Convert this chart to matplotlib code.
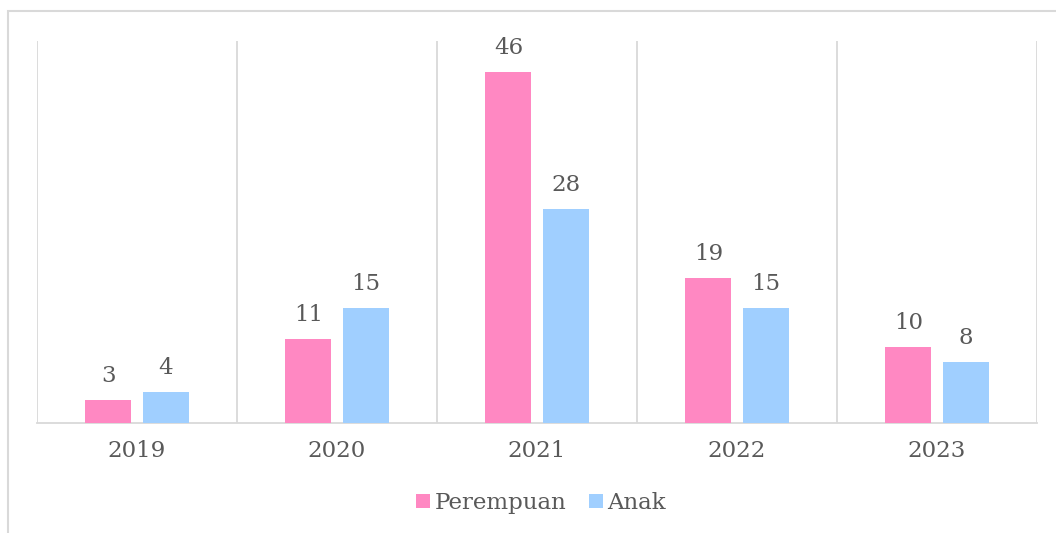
import matplotlib
matplotlib.use("Agg")
import matplotlib.pyplot as plt
import numpy as np
from matplotlib.patches import Rectangle

years = ["2019", "2020", "2021", "2022", "2023"]
perempuan = [3, 11, 46, 19, 10]
anak = [4, 15, 28, 15, 8]

pink = "#FF88C2"
blue = "#A0CFFF"
grid = "#D9D9D9"
txt = "#595959"

plt.rcParams['font.family'] = ['DejaVu Serif']

W, H = 1056, 533
fig = plt.figure(figsize=(W / 100, H / 100), dpi=100)
fig.patch.set_facecolor("white")

# outer chart border
fig.patches.append(Rectangle((8 / W, -0.2), 1.5, (H - 11) / H + 0.2,
                             transform=fig.transFigure, fill=False,
                             edgecolor=grid, linewidth=1.5))

ax = fig.add_axes([37 / W, (H - 423) / H, 1000 / W, 382 / H])
x = np.arange(len(years))
bw = 0.23
off = 0.143
b1 = ax.bar(x - off, perempuan, bw, color=pink, label="Perempuan", zorder=3)
b2 = ax.bar(x + off, anak, bw, color=blue, label="Anak", zorder=3)

ax.set_xlim(-0.5, len(years) - 0.5)
ax.set_ylim(0, 50)
for s in ["top", "left", "right"]:
    ax.spines[s].set_visible(False)
ax.spines["bottom"].set_color(grid)
ax.spines["bottom"].set_linewidth(1.3)
ax.set_yticks([])
ax.set_xticks(x)
ax.set_xticklabels(years, fontsize=16.5, color=txt)
ax.tick_params(axis="x", length=0, pad=12)

for b in np.arange(-0.5, len(years), 1.0):
    ax.axvline(b, color=grid, linewidth=1.3, zorder=1)

for bars, vals in ((b1, perempuan), (b2, anak)):
    for rect, v in zip(bars, vals):
        ax.annotate(str(v), (rect.get_x() + rect.get_width() / 2, v),
                    xytext=(0, 24), textcoords="offset pixels",
                    ha="center", va="center", fontsize=16.5, color=txt)

leg = fig.legend(handles=[b1, b2], labels=["Perempuan", "Anak"],
                 loc="center", bbox_to_anchor=(541 / W, (H - 503) / H),
                 ncol=2, frameon=False, fontsize=16.5, handlelength=0.6,
                 handleheight=0.6, handletextpad=0.2, columnspacing=1.0,
                 labelcolor=txt)

fig.savefig("out.png", dpi=100, facecolor="white")
